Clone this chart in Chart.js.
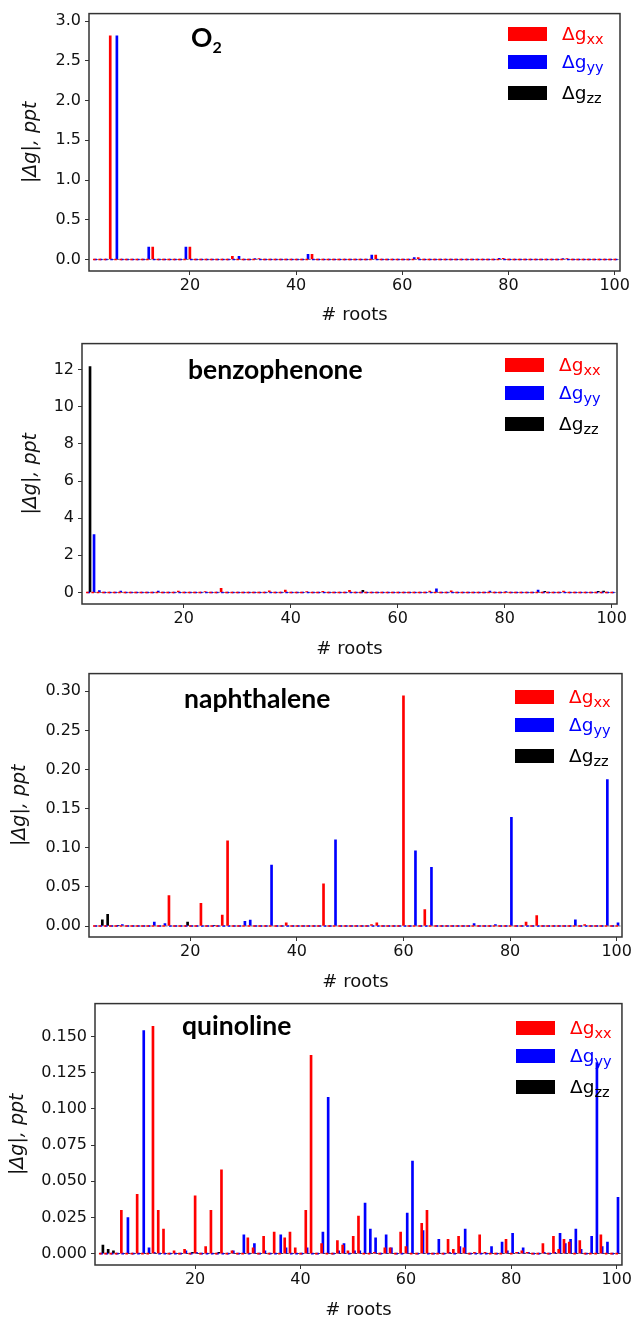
<!DOCTYPE html>
<html>
<head>
<meta charset="utf-8">
<script src="https://cdn.jsdelivr.net/npm/chart.js@4.4.0/dist/chart.umd.min.js"></script>
<style>
  html, body { margin: 0; padding: 0; background: #fff; overflow: hidden; }
  body { width: 633px; height: 1319px; position: relative; font-family: 'DejaVu Sans', sans-serif; }
  canvas { position: absolute; left: 0; }
  .mol { position: absolute; font-family: Lato, 'Open Sans', sans-serif; font-weight: bold; font-size: 26.5px; line-height: 26.5px; color: #000; white-space: nowrap; }
  .mol sub { font-size: 16px; vertical-align: -6px; line-height: 0; }
  .row { position: absolute; height: 14px; white-space: nowrap; }
  .patch { position: absolute; left: 0; top: 0; width: 39px; height: 14px; }
  .lbl { position: absolute; left: 54px; top: -2px; font-size: 18.5px; line-height: 18px; }
  .lbl sub { font-size: 14.5px; vertical-align: -4px; line-height: 0; }
</style>
</head>
<body>
<script>
// root index of each excited state (x axis)
const roots = [2, 3, 4, 5, 6, 7, 8, 9,
  10, 11, 12, 13, 14, 15, 16, 17, 18, 19,
  20, 21, 22, 23, 24, 25, 26, 27, 28, 29,
  30, 31, 32, 33, 34, 35, 36, 37, 38, 39,
  40, 41, 42, 43, 44, 45, 46, 47, 48, 49,
  50, 51, 52, 53, 54, 55, 56, 57, 58, 59,
  60, 61, 62, 63, 64, 65, 66, 67, 68, 69,
  70, 71, 72, 73, 74, 75, 76, 77, 78, 79,
  80, 81, 82, 83, 84, 85, 86, 87, 88, 89,
  90, 91, 92, 93, 94, 95, 96, 97, 98, 99,
  100];

const seriesNames = ['xx', 'yy', 'zz'];
const seriesColors = ['#ff0000', '#0000ff', '#000000'];
const barOffsets = [0, 0.25, 0.5];
const xTicks = [20, 40, 60, 80, 100];

// O2
const o2Xx = [0, 0, 0, 2.815, 0, 0, 0, 0,
  0, 0, 0, 0.157, 0, 0, 0, 0, 0, 0,
  0.157, 0, 0, 0, 0, 0, 0, 0, 0.041, 0,
  0, 0, 0, 0.010, 0, 0, 0, 0, 0, 0,
  0, 0, 0, 0.066, 0, 0, 0, 0, 0, 0,
  0, 0, 0, 0, 0, 0.054, 0, 0, 0, 0,
  0, 0, 0, 0.025, 0, 0, 0, 0, 0, 0,
  0, 0, 0, 0, 0, 0, 0, 0, 0, 0.016,
  0, 0, 0, 0, 0, 0, 0, 0, 0, 0,
  0, 0.005, 0, 0, 0, 0, 0, 0, 0, 0,
  0];
const o2Yy = [0, 0, 0, 0, 2.815, 0, 0, 0,
  0, 0, 0.157, 0, 0, 0, 0, 0, 0, 0.157,
  0, 0, 0, 0, 0, 0, 0, 0, 0, 0.041,
  0, 0, 0.010, 0, 0, 0, 0, 0, 0, 0,
  0, 0, 0.066, 0, 0, 0, 0, 0, 0, 0,
  0, 0, 0, 0, 0.054, 0, 0, 0, 0, 0,
  0, 0, 0.025, 0, 0, 0, 0, 0, 0, 0,
  0, 0, 0, 0, 0, 0, 0, 0, 0.016, 0,
  0, 0, 0, 0, 0, 0, 0, 0, 0, 0,
  0.005, 0, 0, 0, 0, 0, 0, 0, 0, 0,
  0];
const o2Zz = [0, 0, 0, 0, 0, 0, 0, 0,
  0, 0, 0, 0, 0, 0, 0, 0, 0, 0,
  0, 0, 0, 0, 0, 0, 0, 0, 0, 0,
  0, 0, 0, 0, 0, 0, 0, 0, 0, 0,
  0, 0, 0, 0, 0, 0, 0, 0, 0, 0,
  0, 0, 0, 0, 0, 0, 0, 0, 0, 0,
  0, 0, 0, 0, 0, 0, 0, 0, 0, 0,
  0, 0, 0, 0, 0, 0, 0, 0, 0, 0,
  0, 0, 0, 0, 0, 0, 0, 0, 0, 0,
  0, 0, 0, 0, 0, 0, 0, 0, 0, 0,
  0];
const o2YTicks = [0, 0.5, 1, 1.5, 2, 2.5, 3];

// benzophenone
const benzXx = [0, 0, 0, 0, 0, 0, 0, 0,
  0, 0, 0, 0, 0, 0, 0, 0, 0, 0.07,
  0, 0, 0, 0, 0.05, 0, 0, 0.22, 0, 0,
  0, 0, 0, 0, 0, 0, 0.09, 0, 0, 0.13,
  0, 0, 0, 0.05, 0, 0, 0.06, 0, 0, 0,
  0, 0.11, 0, 0, 0, 0, 0, 0, 0, 0,
  0, 0, 0, 0, 0, 0, 0.07, 0, 0, 0,
  0.09, 0, 0, 0, 0, 0, 0, 0, 0, 0,
  0, 0, 0, 0, 0, 0, 0, 0, 0, 0,
  0, 0.07, 0, 0, 0, 0, 0, 0, 0, 0,
  0];
const benzYy = [0, 3.12, 0.1, 0, 0, 0, 0.07, 0,
  0, 0, 0, 0, 0, 0.07, 0, 0, 0, 0,
  0, 0, 0, 0, 0, 0, 0, 0, 0, 0,
  0, 0, 0, 0, 0, 0, 0, 0, 0, 0,
  0, 0, 0, 0, 0, 0, 0, 0, 0, 0,
  0, 0, 0, 0, 0, 0, 0, 0, 0, 0,
  0, 0, 0, 0, 0, 0, 0, 0.2, 0, 0,
  0, 0, 0, 0, 0, 0, 0, 0.07, 0, 0,
  0.04, 0, 0, 0, 0, 0, 0.13, 0, 0, 0,
  0, 0, 0, 0, 0, 0, 0, 0, 0, 0,
  0];
const benzZz = [12.16, 0, 0, 0, 0, 0, 0, 0,
  0, 0, 0, 0, 0, 0, 0, 0, 0, 0,
  0, 0, 0, 0, 0, 0, 0, 0, 0, 0,
  0, 0, 0, 0, 0, 0, 0, 0, 0, 0,
  0, 0, 0, 0, 0, 0, 0, 0, 0, 0,
  0, 0, 0, 0.11, 0, 0, 0, 0, 0, 0,
  0, 0, 0, 0, 0, 0, 0, 0, 0, 0,
  0, 0, 0, 0, 0, 0, 0, 0, 0, 0,
  0, 0, 0, 0, 0, 0, 0, 0.06, 0, 0,
  0, 0, 0, 0, 0, 0, 0, 0.06, 0.07, 0,
  0];
const benzYTicks = [0, 2, 4, 6, 8, 10, 12];

// naphthalene
const naphXx = [0, 0, 0, 0, 0, 0, 0, 0,
  0, 0, 0, 0, 0, 0, 0.039, 0, 0, 0,
  0, 0, 0.029, 0, 0, 0, 0.014, 0.109, 0, 0,
  0, 0, 0, 0, 0, 0, 0, 0, 0.004, 0,
  0, 0, 0, 0, 0, 0.054, 0, 0, 0, 0,
  0, 0, 0, 0, 0.002, 0.004, 0, 0, 0, 0,
  0.294, 0, 0, 0, 0.021, 0, 0, 0, 0, 0,
  0, 0, 0, 0, 0, 0, 0, 0, 0, 0,
  0, 0, 0, 0.005, 0, 0.0135, 0, 0, 0, 0,
  0, 0, 0, 0, 0.002, 0, 0, 0, 0, 0,
  0];
const naphYy = [0, 0, 0, 0, 0, 0.002, 0, 0,
  0, 0, 0, 0.005, 0, 0.003, 0, 0, 0, 0,
  0, 0, 0, 0, 0, 0, 0, 0, 0, 0,
  0.006, 0.0075, 0, 0, 0, 0.078, 0, 0, 0, 0,
  0, 0, 0, 0, 0, 0, 0, 0.110, 0, 0,
  0, 0, 0, 0, 0, 0, 0, 0, 0, 0,
  0, 0, 0.096, 0, 0, 0.075, 0, 0, 0, 0,
  0, 0, 0, 0.003, 0, 0, 0, 0.002, 0, 0,
  0.139, 0, 0, 0, 0, 0, 0, 0, 0, 0,
  0, 0, 0.008, 0, 0, 0, 0, 0, 0.187, 0,
  0.004];
const naphZz = [0, 0.008, 0.015, 0, 0.001, 0, 0, 0,
  0, 0, 0, 0, 0, 0, 0, 0, 0, 0.005,
  0, 0, 0, 0, 0.001, 0, 0, 0, 0, 0,
  0, 0, 0, 0, 0, 0, 0, 0, 0, 0,
  0, 0, 0, 0, 0, 0, 0, 0, 0, 0,
  0, 0, 0, 0, 0, 0, 0, 0, 0, 0,
  0, 0, 0, 0, 0, 0, 0, 0, 0, 0,
  0, 0, 0, 0, 0, 0, 0, 0, 0, 0,
  0, 0, 0, 0, 0, 0, 0, 0, 0, 0,
  0, 0, 0, 0, 0, 0, 0, 0, 0, 0,
  0];
const naphYTicks = [0, 0.05, 0.10, 0.15, 0.20, 0.25, 0.30];

// quinoline
const quinXx = [0, 0, 0, 0, 0.030, 0, 0, 0.041,
  0, 0, 0.157, 0.030, 0.017, 0, 0.002, 0, 0.003, 0,
  0.040, 0, 0.005, 0.030, 0, 0.058, 0, 0.002, 0, 0,
  0.011, 0.004, 0, 0.012, 0, 0.015, 0, 0.011, 0.015, 0.004,
  0, 0.030, 0.137, 0, 0.007, 0, 0, 0.009, 0.006, 0.002,
  0.012, 0.026, 0, 0, 0.001, 0, 0.004, 0.004, 0, 0.015,
  0.005, 0, 0, 0.021, 0.030, 0, 0, 0, 0.010, 0.003,
  0.012, 0.004, 0, 0.001, 0.013, 0.001, 0, 0, 0, 0.010,
  0, 0.001, 0.002, 0.001, 0, 0, 0.007, 0, 0.012, 0.003,
  0.010, 0.008, 0, 0.009, 0, 0, 0, 0.013, 0, 0,
  0];
const quinYy = [0, 0, 0, 0, 0, 0.025, 0, 0,
  0.154, 0.004, 0.001, 0, 0, 0, 0, 0, 0.002, 0,
  0.001, 0, 0, 0, 0, 0, 0, 0.002, 0, 0.013,
  0, 0.007, 0, 0.002, 0, 0, 0.013, 0.004, 0, 0,
  0, 0.004, 0, 0, 0.015, 0.108, 0, 0.002, 0.007, 0,
  0.002, 0.002, 0.035, 0.017, 0.011, 0, 0.013, 0.004, 0, 0,
  0.028, 0.064, 0, 0.016, 0, 0, 0.010, 0, 0.001, 0,
  0.005, 0.017, 0, 0, 0, 0, 0.005, 0, 0.008, 0.002,
  0.014, 0.001, 0.004, 0.001, 0, 0, 0.001, 0, 0.001, 0.014,
  0.007, 0.010, 0.017, 0.003, 0, 0.012, 0.132, 0.005, 0.008, 0,
  0.039];
const quinZz = [0.006, 0.003, 0.002, 0, 0, 0, 0, 0,
  0, 0, 0, 0, 0, 0, 0, 0, 0, 0.001,
  0, 0, 0, 0, 0.001, 0, 0, 0, 0, 0,
  0, 0, 0, 0, 0, 0, 0, 0, 0, 0,
  0, 0, 0, 0, 0, 0, 0, 0, 0, 0,
  0, 0, 0, 0, 0, 0, 0, 0, 0, 0,
  0, 0, 0, 0, 0, 0, 0, 0, 0, 0,
  0, 0, 0, 0, 0, 0, 0, 0, 0, 0,
  0, 0, 0, 0, 0, 0, 0, 0, 0, 0,
  0, 0, 0, 0, 0, 0, 0, 0, 0, 0,
  0];
const quinYTicks = [0, 0.025, 0.05, 0.075, 0.10, 0.125, 0.15];

// panel layout (page pixels); frame = L..R, T..B inside each canvas
const panels = [
  { name: 'O<sub>2</sub>', series: [o2Xx, o2Yy, o2Zz], yTicks: o2YTicks, dec: 1, yMin: -0.145, yMax: 3.095,
    top: 0, h: 340, L: 89, R: 620, T: 9, B: 271, xTitleY: 315, yTitleX: 31, molX: 191, molBase: 47 },
  { name: 'benzophenone', series: [benzXx, benzYy, benzZz], yTicks: benzYTicks, dec: 0, yMin: -0.62, yMax: 13.4,
    top: 330, h: 340, L: 82, R: 617, T: 10, B: 274, xTitleY: 319, yTitleX: 31, molX: 188, molBase: 379 },
  { name: 'naphthalene', series: [naphXx, naphYy, naphZz], yTicks: naphYTicks, dec: 2, yMin: -0.014, yMax: 0.3225,
    top: 660, h: 340, L: 89, R: 627, T: 12, B: 277, xTitleY: 322, yTitleX: 20, molX: 184, molBase: 708 },
  { name: 'quinoline', series: [quinXx, quinYy, quinZz], yTicks: quinYTicks, dec: 3, yMin: -0.0078, yMax: 0.1727,
    top: 990, h: 329, L: 95, R: 628, T: 13, B: 275, xTitleY: 320, yTitleX: 18, molX: 182, molBase: 1035 }
];

// box around the plot area, like matplotlib spines
const framePlugin = {
  id: 'frame',
  afterDatasetsDraw(chart) {
    const { ctx, chartArea: a } = chart;
    ctx.save();
    ctx.strokeStyle = '#333';
    ctx.lineWidth = 1.5;
    ctx.strokeRect(a.left, a.top, a.right - a.left, a.bottom - a.top);
    ctx.restore();
  }
};

const tickFont = { family: 'DejaVu Sans', size: 16 };

panels.forEach(p => {
  const canvas = document.createElement('canvas');
  canvas.width = 633;
  canvas.height = p.h;
  canvas.style.top = p.top + 'px';
  document.body.appendChild(canvas);

  const chart = new Chart(canvas, {
    type: 'bar',
    data: {
      datasets: p.series.map((vals, k) => ({
        label: 'Δg' + seriesNames[k],
        data: roots.map((r, i) => ({ x: r + barOffsets[k], y: vals[i] })),
        backgroundColor: seriesColors[k],
        borderWidth: 0,
        barThickness: 2,
        grouped: false,
        minBarLength: k < 2 ? 1 : 0
      }))
    },
    options: {
      responsive: false,
      animation: false,
      layout: { padding: { left: 0, top: p.T, right: 633 - p.R, bottom: 0 } },
      plugins: { legend: { display: false }, tooltip: { enabled: false } },
      scales: {
        x: {
          type: 'linear',
          min: 1,
          max: 101,
          offset: false,
          afterBuildTicks: s => { s.ticks = xTicks.map(v => ({ value: v })); },
          afterFit: s => { s.height = p.h - p.B; },
          border: { display: false },
          grid: { offset: false, drawOnChartArea: false, drawTicks: true, tickLength: 4, color: '#333', lineWidth: 1 },
          ticks: { font: tickFont, color: '#111', padding: 1, maxRotation: 0 },
          title: {
            display: true, text: '# roots', color: '#111',
            font: { family: 'DejaVu Sans', size: 18, lineHeight: 1 },
            padding: { top: 0, bottom: p.h - p.xTitleY - 9 }
          }
        },
        y: {
          min: p.yMin,
          max: p.yMax,
          afterBuildTicks: s => { s.ticks = p.yTicks.map(v => ({ value: v })); },
          afterFit: s => { s.width = p.L; },
          border: { display: false },
          grid: { offset: false, drawOnChartArea: false, drawTicks: true, tickLength: 4, color: '#333', lineWidth: 1 },
          ticks: { font: tickFont, color: '#111', padding: 4, callback: v => Number(v).toFixed(p.dec) },
          title: {
            display: true, text: '|Δg|, ppt', color: '#111',
            font: { family: 'DejaVu Sans', size: 19, style: 'italic', lineHeight: 1 },
            padding: { top: p.yTitleX - 9.5, bottom: 0 }
          }
        }
      }
    },
    plugins: [framePlugin]
  });

  // molecule name
  const mol = document.createElement('div');
  mol.className = 'mol';
  mol.innerHTML = p.name;
  mol.style.left = p.molX + 'px';
  mol.style.top = (p.molBase - 23.5) + 'px';
  document.body.appendChild(mol);

  // legend built from the datasets
  const rowOffsets = [17.5, 46, 76.5];
  chart.data.datasets.forEach((ds, k) => {
    const row = document.createElement('div');
    row.className = 'row';
    row.style.left = (p.R - 112) + 'px';
    row.style.top = (p.top + p.T + rowOffsets[k]) + 'px';
    row.innerHTML = '<div class="patch" style="background:' + ds.backgroundColor + '"></div>' +
      '<div class="lbl" style="color:' + ds.backgroundColor + '">Δg<sub>' + seriesNames[k] + '</sub></div>';
    document.body.appendChild(row);
  });
});
</script>
</body>
</html>
